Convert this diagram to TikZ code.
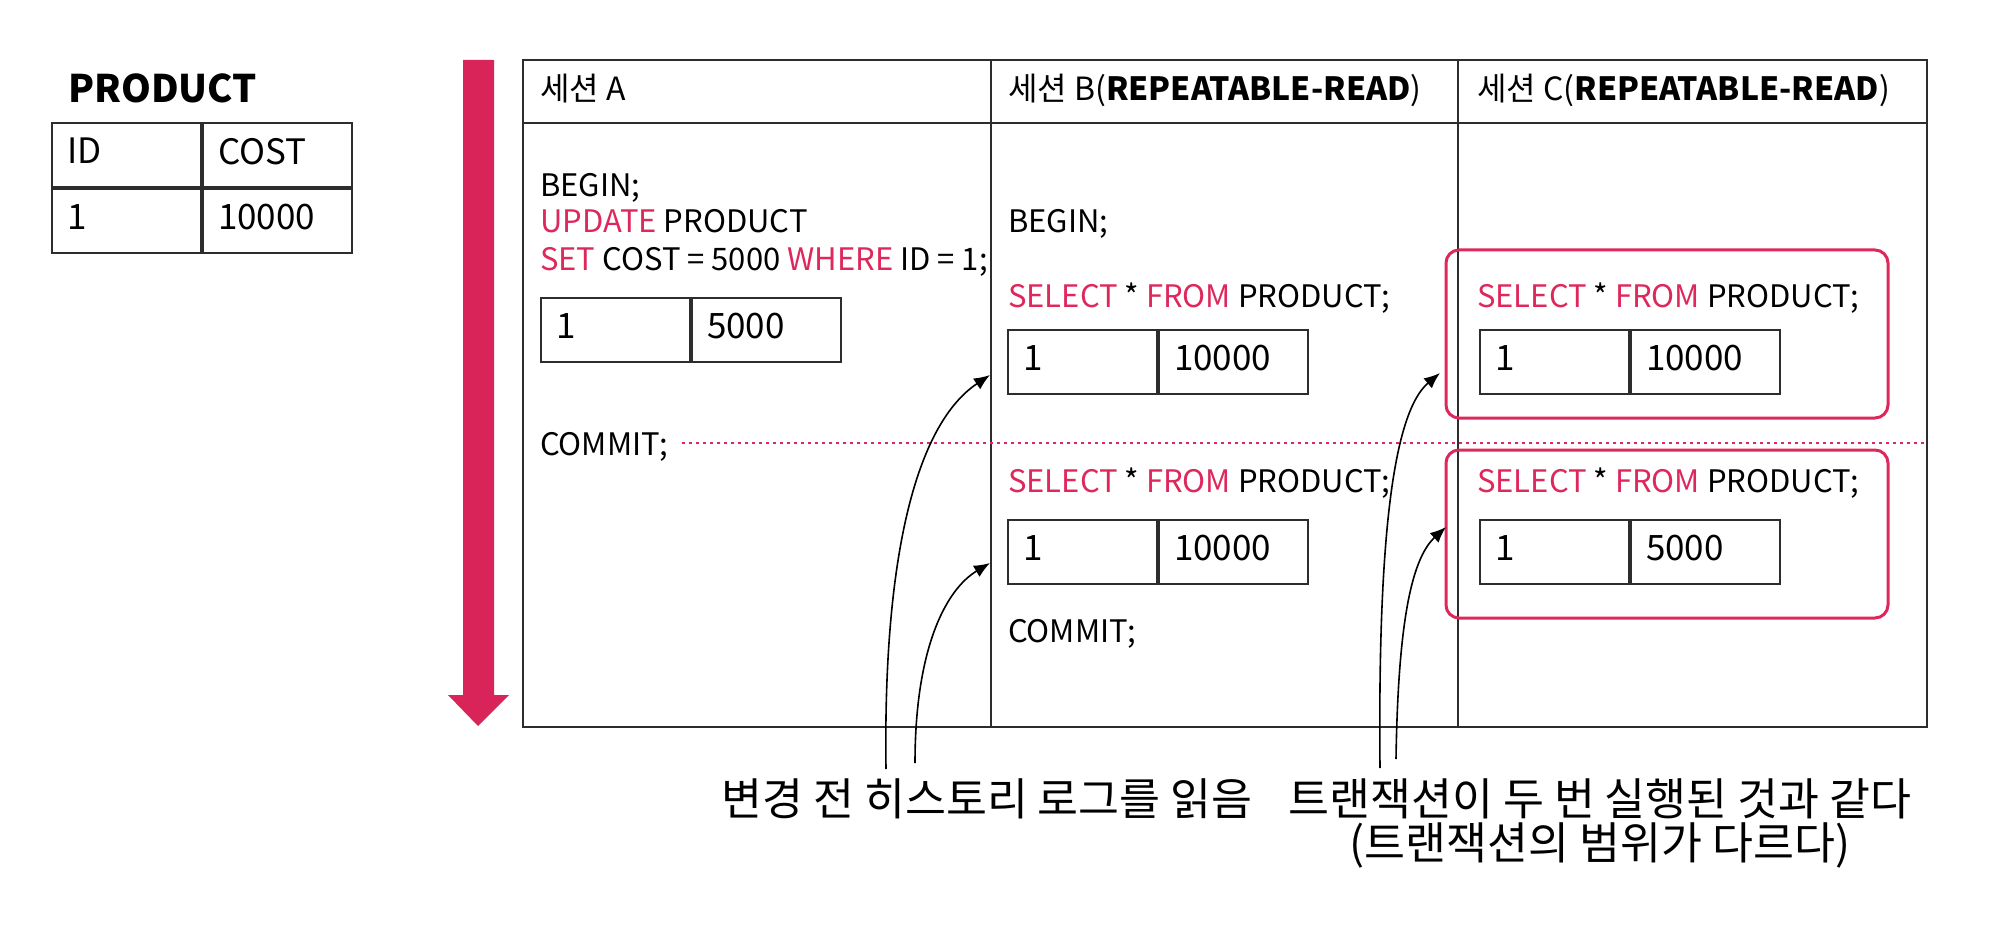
\documentclass[tikz,border=0pt]{standalone}
\usepackage{fontspec}
\setmainfont{Noto Sans CJK KR}
\usetikzlibrary{arrows.meta}
\definecolor{crim}{RGB}{216,36,88}
\definecolor{kwc}{RGB}{222,40,92}
\definecolor{ln}{RGB}{45,45,45}
\newcommand{\kw}[1]{\textcolor{kwc}{#1}}
\begin{document}
\begin{tikzpicture}[x=1pt,y=-1pt,
  txt/.style={anchor=base west, inner sep=0pt, font=\fontsize{31}{36}\selectfont},
  hdr/.style={anchor=base west, inner sep=0pt, font=\fontsize{32}{38}\selectfont},
  cell/.style={draw=ln, line width=2pt, minimum width=149pt, minimum height=64pt,
    text width=119pt, align=left, inner xsep=15pt, inner ysep=0pt, text depth=8pt,
    anchor=north west, font=\fontsize{35}{40}\selectfont},
  bot/.style={anchor=base, inner sep=0pt, font=\fontsize{44.5}{50}\selectfont},
  hist/.style={-{Latex[length=16pt,width=13pt]}, line width=1.6pt, black},
  pinkbox/.style={draw=kwc, line width=3pt, rounded corners=13pt},
  grid/.style={draw=ln, line width=2.5pt}
]
\useasboundingbox (0,0) rectangle (1990,944);

% PRODUCT table
\node[anchor=base west, inner sep=0pt, font=\fontsize{38}{44}\selectfont\bfseries] (ptitle) at (68,103) {PRODUCT};
\node[cell] (ph1) at (51,122) {ID};
\node[cell] (ph2) at (ph1.north east) {COST};
\node[cell] (pr1) at (ph1.south west) {1};
\node[cell] (pr2) at (pr1.north east) {10000};

% time arrow
\fill[crim] (463,60) -- (494,60) -- (494,695) -- (509,695) -- (478,726) -- (448,695) -- (463,695) -- cycle;

% main grid
\draw[grid] (523,60) rectangle (1927,727);
\draw[grid] (523,123) -- (1927,123);
\draw[grid] (991,60) -- (991,727);
\draw[grid] (1458,60) -- (1458,727);

% headers
\node[hdr] (hA) at (540,101) {세션 A};
\node[hdr] (hB) at (1008,101) {세션 B(\textbf{REPEATABLE-READ})};
\node[hdr] (hC) at (1477,101) {세션 C(\textbf{REPEATABLE-READ})};

% session A
\node[txt] (aBegin) at (540,197) {BEGIN;};
\node[txt] (aUpd) at (540,233) {\kw{UPDATE} PRODUCT};
\node[txt] (aSet) at (540,270) {\kw{SET} COST = 5000 \kw{WHERE} ID = 1;};
\node[cell] (aT1) at (540,297) {1};
\node[cell] (aT2) at (aT1.north east) {5000};
\node[txt] (aCommit) at (540,455) {COMMIT;};

% commit line
\coordinate (dl1) at (682,443);
\coordinate (dl2) at (1927,443);
\draw[kwc, line width=2pt, dash pattern=on 2.5pt off 4.5pt] (dl1) -- (dl2);

% session B
\node[txt] (bBegin) at (1008,233) {BEGIN;};
\node[txt] (bSel1) at (1008,308) {\kw{SELECT} * \kw{FROM} PRODUCT;};
\node[cell] (bT1a) at (1007,329) {1};
\node[cell] (bT1b) at (bT1a.north east) {10000};
\node[txt] (bSel2) at (1008,492) {\kw{SELECT} * \kw{FROM} PRODUCT;};
\node[cell] (bT2a) at (1007,519) {1};
\node[cell] (bT2b) at (bT2a.north east) {10000};
\node[txt] (bCommit) at (1008,642) {COMMIT;};

% session C
\draw[pinkbox] (1446,250) rectangle (1888,418);
\draw[pinkbox] (1446,450) rectangle (1888,618);
\node[txt] (cSel1) at (1477,308) {\kw{SELECT} * \kw{FROM} PRODUCT;};
\node[cell] (cT1a) at (1479,329) {1};
\node[cell] (cT1b) at (cT1a.north east) {10000};
\node[txt] (cSel2) at (1477,492) {\kw{SELECT} * \kw{FROM} PRODUCT;};
\node[cell] (cT2a) at (1479,519) {1};
\node[cell] (cT2b) at (cT2a.north east) {5000};

% labels
\node[bot] (lbl1) at (987,815) {변경 전 히스토리 로그를 읽음};
\node[bot] (lbl2) at (1600,815) {트랜잭션이 두 번 실행된 것과 같다};
\node[bot] (lbl3) at (1600,859) {(트랜잭션의 범위가 다르다)};

% history arrows
\coordinate (s1) at (886,769);
\coordinate (s2) at (915,763);
\coordinate (s3) at (1380,768);
\coordinate (s4) at (1396,759);
\coordinate (t1) at (990,375);
\coordinate (t2) at (990,563);
\coordinate (t3) at (1440,373);
\coordinate (t4) at (1446,527);
\draw[hist] (s1) .. controls (883,560) and (915,425) .. (t1);
\draw[hist] (s2) .. controls (915,650) and (945,590) .. (t2);
\draw[hist] (s3) .. controls (1378,560) and (1390,415) .. (t3);
\draw[hist] (s4) .. controls (1398,630) and (1410,560) .. (t4);
\end{tikzpicture}
\end{document}
